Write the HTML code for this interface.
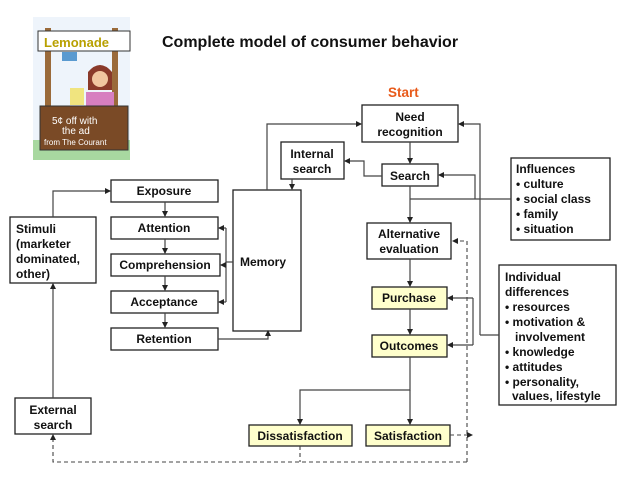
<!DOCTYPE html>
<html><head><style>
body{margin:0;background:#fff}
svg text{font-family:"Liberation Sans",Arial,sans-serif;font-weight:bold;font-size:12px;fill:#111}
</style></head><body>
<svg width="638" height="479" viewBox="0 0 638 479" xmlns="http://www.w3.org/2000/svg">
<defs>
<marker id="a" markerWidth="6" markerHeight="6" refX="5" refY="3" orient="auto" markerUnits="userSpaceOnUse"><path d="M0,0L6,3L0,6z" fill="#222"/></marker>
</defs>
<rect x="33" y="17" width="97" height="143" fill="#eef4fb"/>
<rect x="33" y="140" width="97" height="20" fill="#a8d8a0"/>
<rect x="45" y="28" width="6" height="80" fill="#9a6a3a"/>
<rect x="112" y="28" width="6" height="80" fill="#9a6a3a"/>
<rect x="38" y="31" width="92" height="20" fill="#fff" stroke="#333"/>
<text x="44" y="47" style="fill:#b8a000;font-size:13px">Lemonade</text>
<rect x="62" y="52" width="15" height="9" fill="#5a9ad0"/>
<path d="M88,72 Q100,58 112,72 L112,90 L88,90z" fill="#8a3a2a"/>
<circle cx="100" cy="79" r="8" fill="#f1c6a0"/>
<rect x="86" y="92" width="28" height="14" fill="#d77fc0"/>
<rect x="70" y="88" width="14" height="17" fill="#f0e060" opacity=".8"/>
<rect x="40" y="106" width="88" height="44" fill="#7a4a26" stroke="#333"/>
<text x="52" y="124" style="fill:#fff;font-size:10px;font-weight:normal">5¢ off with</text>
<text x="62" y="134" style="fill:#fff;font-size:10px;font-weight:normal">the ad</text>
<text x="44" y="145" style="fill:#fff;font-size:8px;font-weight:normal">from The Courant</text>

<text x="162" y="47" style="font-size:16px">Complete model of consumer behavior</text>
<text x="388" y="97" style="fill:#e85a1a;font-size:13.5px">Start</text>

<g fill="none" stroke="#222" stroke-width="1.3">
<rect x="362" y="105" width="96" height="37" fill="#fff"/>
<rect x="281" y="142" width="63" height="37"/>
<rect x="382" y="164" width="56" height="22"/>
<rect x="233" y="190" width="68" height="141"/>
<rect x="367" y="223" width="84" height="36"/>
<rect x="372" y="287" width="75" height="22" fill="#ffffcc"/>
<rect x="372" y="335" width="75" height="22" fill="#ffffcc"/>
<rect x="249" y="425" width="103" height="21" fill="#ffffcc"/>
<rect x="366" y="425" width="84" height="21" fill="#ffffcc"/>
<rect x="111" y="180" width="107" height="22"/>
<rect x="111" y="217" width="107" height="22"/>
<rect x="111" y="254" width="109" height="22"/>
<rect x="111" y="291" width="107" height="22"/>
<rect x="111" y="328" width="107" height="22"/>
<rect x="10" y="217" width="86" height="66"/>
<rect x="15" y="398" width="76" height="36"/>
<rect x="511" y="158" width="99" height="82"/>
<rect x="499" y="265" width="117" height="140"/>
</g>
<g fill="none" stroke="#444" stroke-width="1.2">
<path d="M267,190V124H361" marker-end="url(#a)"/>
<path d="M410,142V163" marker-end="url(#a)"/>
<path d="M382,176H364V161H345" marker-end="url(#a)"/>
<path d="M292,179V189" marker-end="url(#a)"/>
<path d="M410,186V222" marker-end="url(#a)"/>
<path d="M410,199H511"/>
<path d="M475,199V175H439" marker-end="url(#a)"/>
<path d="M480,335V124H459" marker-end="url(#a)"/>
<path d="M480,335H499"/>
<path d="M473,298V345"/>
<path d="M473,298H448" marker-end="url(#a)"/>
<path d="M473,345H448" marker-end="url(#a)"/>
<path d="M410,259V286" marker-end="url(#a)"/>
<path d="M410,309V334" marker-end="url(#a)"/>
<path d="M410,357V390H300V424" marker-end="url(#a)"/>
<path d="M410,390V424" marker-end="url(#a)"/>
<path d="M165,202V216" marker-end="url(#a)"/>
<path d="M165,239V253" marker-end="url(#a)"/>
<path d="M165,276V290" marker-end="url(#a)"/>
<path d="M165,313V327" marker-end="url(#a)"/>
<path d="M53,217V191H110" marker-end="url(#a)"/>
<path d="M53,398V284" marker-end="url(#a)"/>
<path d="M233,262H226"/>
<path d="M226,228V302"/>
<path d="M226,228H219" marker-end="url(#a)"/>
<path d="M226,265H221" marker-end="url(#a)"/>
<path d="M226,302H219" marker-end="url(#a)"/>
<path d="M218,339H268V331" marker-end="url(#a)"/>
</g>
<g fill="none" stroke="#444" stroke-width="1.1" stroke-dasharray="4,3">
<path d="M467,462V241H453" marker-end="url(#a)"/>
<path d="M467,462H53V435" marker-end="url(#a)"/>
<path d="M450,435H472" marker-end="url(#a)"/>
<path d="M300,446V462"/>
</g>
<g text-anchor="middle">
<text x="410" y="121">Need</text><text x="410" y="136">recognition</text>
<text x="312" y="158">Internal</text><text x="312" y="173">search</text>
<text x="410" y="180">Search</text>
<text x="409" y="238">Alternative</text><text x="409" y="253">evaluation</text>
<text x="409" y="302">Purchase</text>
<text x="409" y="350">Outcomes</text>
<text x="300" y="440">Dissatisfaction</text>
<text x="408" y="440">Satisfaction</text>
<text x="164" y="195">Exposure</text>
<text x="164" y="232">Attention</text>
<text x="165" y="269">Comprehension</text>
<text x="164" y="306">Acceptance</text>
<text x="164" y="343">Retention</text>
<text x="53" y="414">External</text><text x="53" y="429">search</text>
</g>
<text x="240" y="266">Memory</text>
<text x="16" y="233">Stimuli</text><text x="16" y="248">(marketer</text><text x="16" y="263">dominated,</text><text x="16" y="278">other)</text>
<text x="516" y="173">Influences</text>
<text x="516" y="188">• culture</text><text x="516" y="203">• social class</text><text x="516" y="218">• family</text><text x="516" y="233">• situation</text>
<text x="505" y="281">Individual</text><text x="505" y="296">differences</text>
<text x="505" y="311">• resources</text><text x="505" y="326">• motivation &amp;</text><text x="515" y="341">involvement</text>
<text x="505" y="356">• knowledge</text><text x="505" y="371">• attitudes</text><text x="505" y="386">• personality,</text><text x="512" y="400">values, lifestyle</text>
</svg>
</body></html>
